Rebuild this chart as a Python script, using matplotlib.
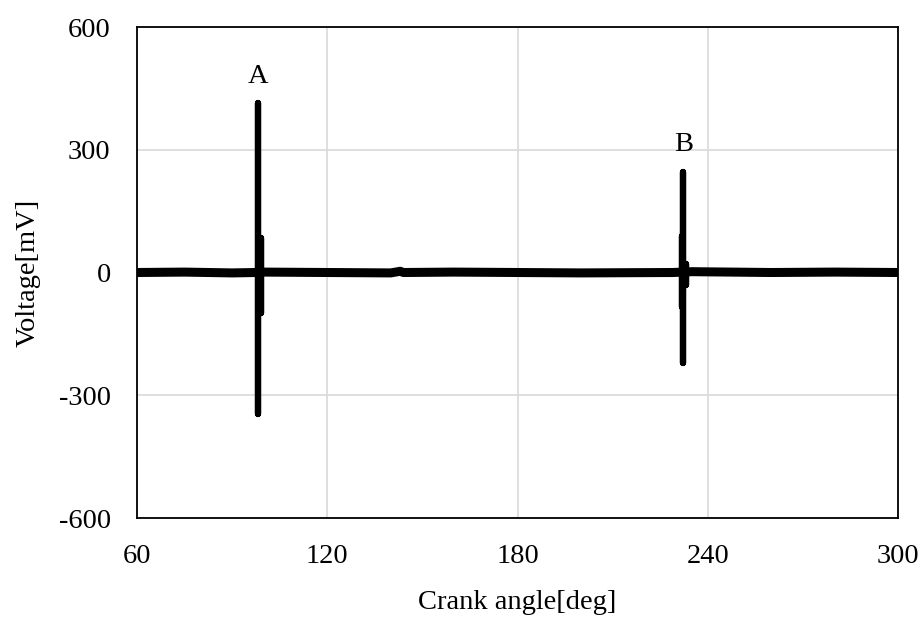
import matplotlib
matplotlib.use("Agg")
import matplotlib.pyplot as plt

plt.rcParams['font.family'] = ['Liberation Serif', 'DejaVu Serif']
plt.rcParams['axes.unicode_minus'] = False

# baseline of the sensor trace (crank angle in deg, voltage in mV)
base_angle = [60, 75, 90, 97.5, 100, 120, 140, 143, 144, 160, 180, 200, 229, 235, 260, 280, 300]
base_volt = [0, 1, -1, 0, 1, 0, -1, 3, 0, 1, 0, -1, 0, 2, 0, 1, 0]

# discharge pulse A
spike_a_angle = [98.3, 98.3, 98.3, 98.3, 99.0, 99.0, 99.0, 99.0]
spike_a_volt = [0, 415, -345, 0, 0, 85, -100, 0]

# discharge pulse B
spike_b_angle = [231.8, 231.8, 231.8, 231.8, 232.3, 232.3, 232.3, 232.3, 233.2, 233.2, 233.2, 233.2]
spike_b_volt = [0, 90, -85, 0, 0, 245, -222, 0, 0, 20, -30, 0]

labels = ["A", "B"]
label_angle = [98.3, 232.3]
label_volt = [478, 314]

fig = plt.figure(figsize=(9.24, 6.18), dpi=100)
ax = fig.add_axes([0.1483, 0.1618, 0.8236, 0.7945])

ax.plot(base_angle, base_volt, color='black', lw=6.5, solid_capstyle='butt', zorder=3)
ax.plot(spike_a_angle, spike_a_volt, color='black', lw=4.5, solid_capstyle='round', zorder=4)
ax.plot(spike_b_angle, spike_b_volt, color='black', lw=4.5, solid_capstyle='round', zorder=4)

for txt, xa, yv in zip(labels, label_angle, label_volt):
    ax.text(xa, yv, txt, ha='center', va='center', fontsize=20.5)

ax.set_xlim(60, 300)
ax.set_ylim(-600, 600)
ax.set_xticks([60, 120, 180, 240, 300])
ax.set_yticks([-600, -300, 0, 300, 600])
ax.tick_params(length=0, labelsize=20.5)
ax.tick_params(axis='x', pad=19)
ax.tick_params(axis='y', pad=19)
ax.grid(True, color='#d9d9d9', lw=1.2)
ax.set_axisbelow(True)
for s in ax.spines.values():
    s.set_linewidth(1.3)
    s.set_color('black')

ax.set_xlabel("Crank angle[deg]", fontsize=20.5, labelpad=15)
ax.set_ylabel("Voltage[mV]", fontsize=20.5, labelpad=13)

fig.savefig("out.png", dpi=100)
